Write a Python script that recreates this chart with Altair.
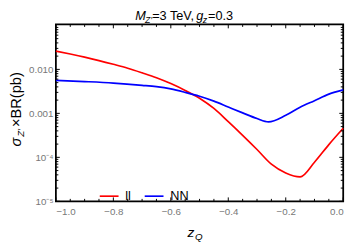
import altair as alt
import pandas as pd

# ---- data ----
z_ll = [-1.0, -0.95, -0.9, -0.85, -0.8, -0.75, -0.7, -0.65, -0.6, -0.55, -0.5,
        -0.45, -0.4, -0.35, -0.3, -0.25, -0.2, -0.15, -0.1, -0.05, 0.0]
ll_vals = [0.02604, 0.02233, 0.01896, 0.01585, 0.01305, 0.01063, 0.00836, 0.006475,
           0.004763, 0.003329, 0.00221, 0.001291, 0.0006475, 0.0003162, 0.0001506,
           6.99e-5, 4.41e-5, 3.594e-5, 7.74e-5, 1.945e-4, 4.571e-4]

z_nn = [-1.0, -0.9, -0.8, -0.7, -0.65, -0.6, -0.55, -0.5, -0.45, -0.4, -0.35,
        -0.3, -0.26, -0.2, -0.15, -0.1, -0.05, 0.0]
nn_vals = [0.00561, 0.005275, 0.004886, 0.004343, 0.004044, 0.003594, 0.003004,
           0.002448, 0.001896, 0.001394, 0.001026, 0.000762, 0.000641, 0.000903,
           0.00138, 0.001945, 0.00274, 0.003415]

series_names = ["ll", "NN"]
series_colors = ["#ff0000", "#0000ff"]

x_major = [-1.0, -0.8, -0.6, -0.4, -0.2, 0.0]
x_minor = [-0.95, -0.9, -0.85, -0.75, -0.7, -0.65, -0.55, -0.5, -0.45,
           -0.35, -0.3, -0.25, -0.15, -0.1, -0.05]
y_major = [1e-5, 1e-4, 1e-3, 1e-2, 1e-1]
y_minor = [m * d for d in [1e-5, 1e-4, 1e-3, 1e-2] for m in range(2, 10)]
y_label_vals = [1e-5, 1e-4, 1e-3, 1e-2]
y_label_text = ["10\u207b\u2075", "10\u207b\u2074", "0.001", "0.010"]

W, H = 294, 181
FONT = "Liberation Sans"

df = pd.concat([
    pd.DataFrame({"z": z_ll, "v": ll_vals, "series": series_names[0]}),
    pd.DataFrame({"z": z_nn, "v": nn_vals, "series": series_names[1]}),
])

xs = alt.Scale(domain=[-1.0, 0.0], nice=False, zero=False)
ys = alt.Scale(type="log", domain=[1e-5, 0.1052], nice=False)

label_expr = " : ".join(
    f"abs(log(datum.value)/log(10) - ({i - 5})) < 0.1 ? '{t}'"
    for i, t in enumerate(y_label_text)
) + " : ''"

ax_x = alt.Axis(values=x_major, format=".1f", title=None, ticks=False, domain=False,
                grid=False, labelColor="#777777", labelFontSize=10, labelPadding=5,
                labelFont=FONT)
ax_y = alt.Axis(values=y_label_vals, labelExpr=label_expr, title=None, ticks=False,
                domain=False, grid=False, labelColor="#777777", labelFontSize=10,
                labelPadding=3, labelFont=FONT)

lines = alt.Chart(df).mark_line(strokeWidth=1.7, interpolate="monotone").encode(
    x=alt.X("z:Q", scale=xs, axis=ax_x),
    y=alt.Y("v:Q", scale=ys, axis=ax_y),
    color=alt.Color("series:N", sort=series_names,
                    scale=alt.Scale(domain=series_names, range=series_colors),
                    legend=alt.Legend(
                        orient="none", legendX=44, legendY=165,
                        direction="horizontal", title=None,
                        symbolType="stroke", symbolStrokeWidth=1.7,
                        symbolSize=370, labelFontSize=13, labelColor="black",
                        labelFont=FONT, labelOffset=6, columnPadding=10,
                        padding=0)),
)


def xticks(vals, length):
    d = pd.DataFrame({"z": vals})
    b = alt.Chart(d).mark_rule(color="black", strokeWidth=1).encode(
        x=alt.X("z:Q", scale=xs, axis=ax_x), y=alt.value(H), y2=alt.value(H - length))
    t = alt.Chart(d).mark_rule(color="black", strokeWidth=1).encode(
        x=alt.X("z:Q", scale=xs, axis=ax_x), y=alt.value(0), y2=alt.value(length))
    return [b, t]


def yticks(vals, length):
    d = pd.DataFrame({"v": vals})
    l = alt.Chart(d).mark_rule(color="black", strokeWidth=1).encode(
        y=alt.Y("v:Q", scale=ys, axis=ax_y), x=alt.value(0), x2=alt.value(length))
    r = alt.Chart(d).mark_rule(color="black", strokeWidth=1).encode(
        y=alt.Y("v:Q", scale=ys, axis=ax_y), x=alt.value(W), x2=alt.value(W - length))
    return [l, r]


def txt(s, x, y, size, italic=False, angle=0):
    return alt.Chart(pd.DataFrame({"t": [s]})).mark_text(
        align="left", baseline="alphabetic", fontSize=size, font=FONT,
        fontStyle="italic" if italic else "normal", angle=angle, color="black"
    ).encode(x=alt.value(x), y=alt.value(y), text="t:N")


texts = [
    # title
    txt("M", 81.3, -4.3, 13, True),
    txt("Z\u2032", 91.3, -1.8, 9, True),
    txt("=3 TeV,", 98.5, -4.3, 13),
    txt("g", 143.5, -4.3, 13, True),
    txt("z", 150.3, -1.8, 9, True),
    txt("=0.3", 155.7, -4.3, 13),
    # x title
    txt("z", 134.7, 217.3, 14, True),
    txt("Q", 142.3, 221.0, 10, True),
    # y title (rotated)
    txt("\u03c3", -35.5, 125, 15, True, 270),
    txt("Z\u2032", -33, 115, 10, True, 270),
    txt("\u00d7BR(pb)", -35.5, 105, 15, False, 270),
]

layers = [lines] + xticks(x_major, 4) + xticks(x_minor, 2.5) \
    + yticks(y_major[:4], 4) + yticks(y_minor, 2.5) + texts

chart = alt.layer(*layers).properties(
    width=W, height=H,
    autosize=alt.AutoSizeParams(type="none"),
    padding={"left": 49, "top": 14, "right": 9, "bottom": 47},
).configure(font=FONT).configure_view(stroke="black", strokeWidth=1.8)

chart.save("out.html", embed_options={"renderer": "svg", "actions": False})
